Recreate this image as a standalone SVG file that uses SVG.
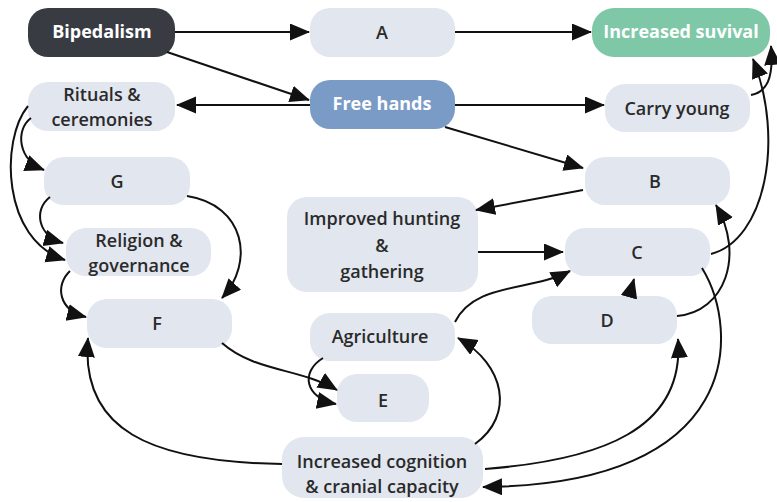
<svg xmlns="http://www.w3.org/2000/svg" width="777" height="502" viewBox="0 0 777 502">
  <defs>
    <marker id="arrow" markerUnits="userSpaceOnUse" markerWidth="22" markerHeight="20" refX="19" refY="8.5" orient="auto">
      <path d="M0,0 L20,8.5 L0,17 z" fill="#111"/>
    </marker>
    <style>
      .box { fill: #e1e6ef; }
      .dark { fill: #383b42; }
      .green { fill: #7ec8a7; }
      .blue { fill: #7b9bc7; }
      .lbl { font-family: "Open Sans", Lato, sans-serif; font-size: 18px; font-weight: 600; fill: #2a2a2a; text-anchor: middle; }
      .wl { font-family: "Open Sans", Lato, sans-serif; font-size: 18px; font-weight: bold; fill: #fff; text-anchor: middle; }
      .edge { fill: none; stroke: #111; stroke-width: 2; marker-end: url(#arrow); }
    </style>
  </defs>
  <rect width="777" height="502" fill="#fff"/>

  <!-- nodes -->
  <g id="bipedalism">
    <rect class="dark" x="28" y="8" width="147" height="49" rx="20"/>
    <text class="wl" x="102" y="38">Bipedalism</text>
  </g>
  <g id="node-a">
    <rect class="box" x="310" y="8" width="145" height="49" rx="20"/>
    <text class="lbl" x="382" y="39">A</text>
  </g>
  <g id="increased-survival">
    <rect class="green" x="592" y="8" width="178" height="49" rx="22"/>
    <text class="wl" x="681" y="38">Increased suvival</text>
  </g>
  <g id="rituals">
    <rect class="box" x="28" y="82" width="147" height="49" rx="20"/>
    <text class="lbl" x="102" y="101">Rituals &amp;</text>
    <text class="lbl" x="102" y="126">ceremonies</text>
  </g>
  <g id="free-hands">
    <rect class="blue" x="310" y="80" width="145" height="49" rx="20"/>
    <text class="wl" x="382" y="110">Free hands</text>
  </g>
  <g id="carry-young">
    <rect class="box" x="605" y="84" width="145" height="48" rx="20"/>
    <text class="lbl" x="677" y="115">Carry young</text>
  </g>
  <g id="node-g">
    <rect class="box" x="44" y="157" width="146" height="48" rx="20"/>
    <text class="lbl" x="117" y="188">G</text>
  </g>
  <g id="node-b">
    <rect class="box" x="585" y="157" width="145" height="48" rx="20"/>
    <text class="lbl" x="655" y="188">B</text>
  </g>
  <g id="hunting">
    <rect class="box" x="287" y="197" width="191" height="95" rx="20"/>
    <text class="lbl" x="382" y="225">Improved hunting</text>
    <text class="lbl" x="382" y="252">&amp;</text>
    <text class="lbl" x="382" y="278">gathering</text>
  </g>
  <g id="religion">
    <rect class="box" x="66" y="228" width="145" height="48" rx="20"/>
    <text class="lbl" x="139" y="247">Religion &amp;</text>
    <text class="lbl" x="139" y="272">governance</text>
  </g>
  <g id="node-c">
    <rect class="box" x="565" y="228" width="145" height="48" rx="20"/>
    <text class="lbl" x="637" y="259">C</text>
  </g>
  <g id="node-f">
    <rect class="box" x="87" y="299" width="145" height="49" rx="20"/>
    <text class="lbl" x="157" y="330">F</text>
  </g>
  <g id="node-d">
    <rect class="box" x="532" y="296" width="145" height="48" rx="20"/>
    <text class="lbl" x="607" y="327">D</text>
  </g>
  <g id="agriculture">
    <rect class="box" x="310" y="313" width="145" height="48" rx="20"/>
    <text class="lbl" x="380" y="343">Agriculture</text>
  </g>
  <g id="node-e">
    <rect class="box" x="337" y="374" width="92" height="48" rx="20"/>
    <text class="lbl" x="383" y="407">E</text>
  </g>
  <g id="cognition">
    <rect class="box" x="282" y="437" width="201" height="61" rx="22"/>
    <text class="lbl" x="382" y="468">Increased cognition</text>
    <text class="lbl" x="382" y="493">&amp; cranial capacity</text>
  </g>

  <!-- connectors -->
  <g id="connectors">
    <path class="edge" d="M175,32 L309,32"/>
    <path class="edge" d="M455,32 L591,32"/>
    <path class="edge" d="M167,52 L309,100"/>
    <path class="edge" d="M310,105 L177,105"/>
    <path class="edge" d="M455,105 L604,105"/>
    <path class="edge" d="M445,127 L583,168"/>
    <path class="edge" d="M583,190 L476,210"/>
    <path class="edge" d="M478,252 L563,252"/>
    <path class="edge" d="M751,95 C766,92 774,80 771,46"/>
    <path class="edge" d="M711,254 C765,240 785,140 753,59"/>
    <path class="edge" d="M677,316 C725,312 745,255 716,205"/>
    <path class="edge" d="M702,268 C740,330 745,485 483,487"/>
    <path class="edge" d="M485,469 C600,460 685,430 678,339"/>
    <path class="edge" d="M475,444 C515,415 505,365 458,338"/>
    <path class="edge" d="M282,464 C150,462 80,430 88,338"/>
    <path class="edge" d="M222,343 C255,372 300,368 337,390"/>
    <path class="edge" d="M323,358 C300,372 305,398 336,404"/>
    <path class="edge" d="M455,322 C475,282 530,292 570,271"/>
    <path class="edge" d="M629,297 L634,279"/>
    <path class="edge" d="M187,196 C245,205 255,262 222,298"/>
    <path class="edge" d="M50,197 C33,210 38,236 63,243"/>
    <path class="edge" d="M31,118 C15,130 18,160 44,170"/>
    <path class="edge" d="M28,106 C0,140 2,240 65,260"/>
    <path class="edge" d="M70,271 C55,285 58,310 86,317"/>
  </g>
</svg>
